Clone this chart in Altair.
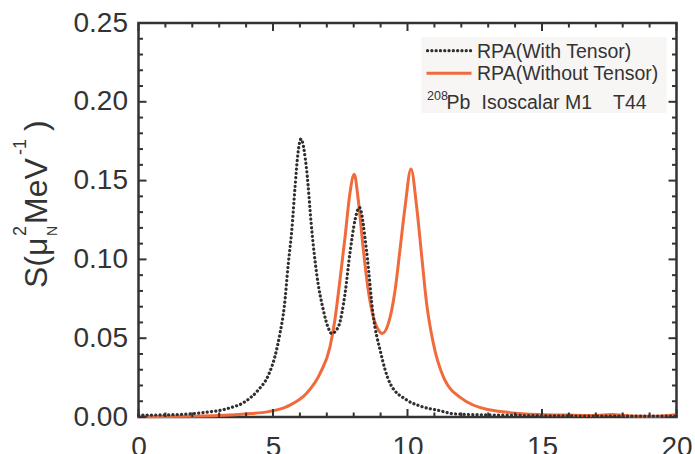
import altair as alt
import pandas as pd

# ---- data ----
x_with = [0, 1.1, 2.35, 3.34, 3.96, 4.45, 4.83, 5.07, 5.26, 5.42, 5.57, 5.7, 5.82, 5.94, 6.04,
          6.25, 6.44, 6.62, 6.87, 7.06, 7.18, 7.43, 7.68, 7.86, 8.05, 8.21, 8.48, 8.73, 8.98,
          9.35, 9.97, 10.46, 11.2, 11.72, 12.5, 13.5, 15, 17, 20]
y_with = [0.0012, 0.0014, 0.0027, 0.0055, 0.0097, 0.0171, 0.0266, 0.0383, 0.0531, 0.070, 0.0975,
          0.1187, 0.146, 0.169, 0.1764, 0.1567, 0.1187, 0.0912, 0.0679, 0.0563, 0.053, 0.0573,
          0.0785, 0.1039, 0.125, 0.133, 0.105, 0.0636, 0.0425, 0.0214, 0.0108, 0.007, 0.004,
          0.002, 0.0015, 0.0012, 0.0008, 0.0006, 0.0005]

x_without = [0, 2.35, 3.96, 4.83, 5.45, 5.63, 6.25, 6.75, 7.12, 7.3, 7.49, 7.68, 7.86, 8.02,
             8.17, 8.36, 8.54, 8.73, 8.92, 9.06, 9.29, 9.54, 9.72, 9.91, 10.13, 10.34, 10.53,
             10.71, 10.96, 11.33, 11.52, 11.97, 12.98, 14.85, 16, 17, 17.6, 18.3, 19.3, 20]
y_without = [0.0002, 0.0006, 0.0019, 0.0034, 0.0061, 0.0075, 0.015, 0.0277, 0.0446, 0.0616,
             0.087, 0.1144, 0.142, 0.154, 0.1377, 0.106, 0.0806, 0.0636, 0.0552, 0.053, 0.0594,
             0.0806, 0.106, 0.1334, 0.1574, 0.1334, 0.1017, 0.0721, 0.0468, 0.0256, 0.0195,
             0.0123, 0.0048, 0.0016, 0.0012, 0.0010, 0.0016, 0.0007, 0.0005, 0.0014]

x_major = [0, 5, 10, 15, 20]
x_minor = [1, 2, 3, 4, 6, 7, 8, 9, 11, 12, 13, 14, 16, 17, 18, 19]
y_major = [0.0, 0.05, 0.10, 0.15, 0.20, 0.25]
y_minor = [0.01, 0.02, 0.03, 0.04, 0.06, 0.07, 0.08, 0.09, 0.11, 0.12, 0.13, 0.14,
           0.16, 0.17, 0.18, 0.19, 0.21, 0.22, 0.23, 0.24]

W, H = 538, 394
FONT = "Liberation Sans"
AX = "#333333"
ORANGE = "#f06a3c"
DARK = "#2f2f2f"

df_with = pd.DataFrame({"E": x_with, "S": y_with})
df_without = pd.DataFrame({"E": x_without, "S": y_without})

xs = alt.Scale(domain=[0, 20], nice=False, zero=False)
ys = alt.Scale(domain=[0, 0.25], nice=False, zero=False)

xaxis = alt.Axis(values=x_major, format="d", labelPadding=16, labelFlush=False,
                 labelFontSize=28, labelFont=FONT, labelColor=AX, ticks=False,
                 domain=False, grid=False, title=None)
yaxis = alt.Axis(values=y_major, format=".2f", labelPadding=11,
                 labelFontSize=28, labelFont=FONT, labelColor=AX, ticks=False,
                 domain=False, grid=False, title=None)

def X(field):
    return alt.X(field, scale=xs, axis=xaxis)

def Y(field):
    return alt.Y(field, scale=ys, axis=yaxis)

line_without = alt.Chart(df_without).mark_line(
    color=ORANGE, strokeWidth=3, interpolate="monotone"
).encode(x=X("E:Q"), y=Y("S:Q"))

line_with = alt.Chart(df_with).mark_line(
    color=DARK, strokeWidth=3.2, strokeDash=[0.1, 4.2], strokeCap="round", interpolate="monotone"
).encode(x=X("E:Q"), y=Y("S:Q"))

# inward ticks on all four sides
def xticks(vals, length):
    d = pd.DataFrame({"E": vals})
    bottom = alt.Chart(d).mark_rule(color=AX, strokeWidth=2).encode(
        x=X("E:Q"), y=alt.value(H), y2=alt.value(H - length))
    top = alt.Chart(d).mark_rule(color=AX, strokeWidth=2).encode(
        x=X("E:Q"), y=alt.value(0), y2=alt.value(length))
    return bottom + top

def yticks(vals, length):
    d = pd.DataFrame({"S": vals})
    left = alt.Chart(d).mark_rule(color=AX, strokeWidth=2).encode(
        y=Y("S:Q"), x=alt.value(0), x2=alt.value(length))
    right = alt.Chart(d).mark_rule(color=AX, strokeWidth=2).encode(
        y=Y("S:Q"), x=alt.value(W), x2=alt.value(W - length))
    return left + right

ticks = xticks(x_major, 8) + xticks(x_minor, 4.5) + yticks(y_major, 8) + yticks(y_minor, 4.5)

# legend box
one = pd.DataFrame({"a": [0]})
legend_bg = alt.Chart(one).mark_rect(color="#f7f6f4").encode(
    x=alt.value(283), x2=alt.value(528), y=alt.value(14), y2=alt.value(90))
leg_dot = alt.Chart(one).mark_rule(color=DARK, strokeWidth=3.2, strokeDash=[0.1, 4.2],
                                   strokeCap="round").encode(
    x=alt.value(289), x2=alt.value(333), y=alt.value(27.7))
leg_sol = alt.Chart(one).mark_rule(color=ORANGE, strokeWidth=3).encode(
    x=alt.value(288), x2=alt.value(333), y=alt.value(50.3))

def txt(s, x, y, size, angle=0, baseline="middle", color=AX):
    kw = dict(text=s, font=FONT, fontSize=size, color=color, align="left", baseline=baseline)
    if angle:
        kw["angle"] = angle
    return alt.Chart(one).mark_text(**kw).encode(x=alt.value(x), y=alt.value(y))

legend_txt = (txt("RPA(With Tensor)", 338.5, 28.5, 19.5)
              + txt("RPA(Without Tensor)", 338.5, 51, 19.5)
              + txt("208", 288.5, 73, 12.5)
              + txt("Pb", 308, 79.5, 19.5)
              + txt("Isoscalar M1", 343, 79.5, 19.5)
              + txt("T44", 474.5, 79.5, 19.5))

# rotated y title: S(mu^2_N MeV^-1)
bx = -91.5  # baseline column, plot coordinates
title = (txt("S(μ", bx, 265, 32, 270, "alphabetic")
         + txt("2", bx - 21, 213, 18, 270, "alphabetic")
         + txt("N", bx + 10, 213, 14, 270, "alphabetic")
         + txt("MeV", bx, 201, 32, 270, "alphabetic")
         + txt("-1", bx - 21, 132, 18, 270, "alphabetic")
         + txt(")", bx, 108, 32, 270, "alphabetic"))

chart = alt.layer(
    legend_bg, line_without, line_with, ticks, leg_dot, leg_sol, legend_txt, title
).properties(
    width=W, height=H,
    autosize=alt.AutoSizeParams(type="none"),
    padding={"left": 138.5, "top": 23, "right": 18.5, "bottom": 37},
    background="white",
).configure_view(stroke=AX, strokeWidth=2.5)

chart.save("out.html", embed_options={"renderer": "svg", "actions": False})
